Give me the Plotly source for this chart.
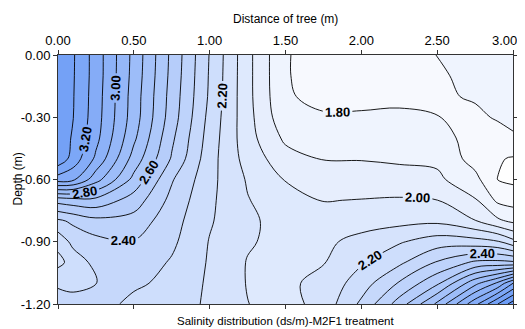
import plotly.graph_objects as go

# Distance from tree (m) – grid columns
distance = [0.0, 0.1, 0.25, 0.5, 0.75, 1.0, 1.25, 1.5, 1.75, 2.0, 2.25, 2.5, 2.75, 2.9, 3.0]
# Depth (m) – grid rows
depth = [0.0, -0.1, -0.2, -0.3, -0.4, -0.5, -0.6, -0.7, -0.8, -0.9, -1.0, -1.1, -1.2]

# Salinity (ds/m), one row per depth
sal_d000 = [3.37, 3.31, 3.155, 2.87, 2.576, 2.295, 2.03, 1.805, 1.77, 1.76, 1.77, 1.801, 1.83, 1.85, 1.86]
sal_d010 = [3.38, 3.308, 3.155, 2.865, 2.57, 2.29, 2.03, 1.805, 1.77, 1.76, 1.77, 1.79, 1.82, 1.84, 1.85]
sal_d020 = [3.385, 3.305, 3.15, 2.855, 2.56, 2.285, 2.03, 1.81, 1.775, 1.768, 1.775, 1.785, 1.81, 1.825, 1.835]
sal_d030 = [3.385, 3.302, 3.145, 2.85, 2.55, 2.27, 2.035, 1.83, 1.81, 1.815, 1.82, 1.802, 1.78, 1.81, 1.81]
sal_d040 = [3.38, 3.285, 3.13, 2.82, 2.52, 2.256, 2.04, 1.88, 1.86, 1.86, 1.86, 1.84, 1.76, 1.76, 1.795]
sal_d050 = [3.375, 3.26, 3.08, 2.76, 2.49, 2.24, 2.06, 1.94, 1.895, 1.895, 1.885, 1.88, 1.76, 1.71, 1.69]
sal_d060 = [3.15, 3.12, 2.94, 2.67, 2.41, 2.23, 2.09, 1.995, 1.96, 1.95, 1.94, 1.92, 1.83, 1.698, 1.68]
sal_d070 = [2.64, 2.66, 2.67, 2.555, 2.37, 2.22, 2.105, 2.04, 1.997, 2.003, 2.01, 2.001, 1.91, 1.78, 1.76]
sal_d080 = [2.38, 2.42, 2.47, 2.46, 2.34, 2.21, 2.12, 2.06, 2.03, 2.06, 2.07, 2.08, 2.005, 1.92, 1.88]
sal_d090 = [2.23, 2.33, 2.37, 2.395, 2.32, 2.195, 2.11, 2.07, 2.08, 2.13, 2.19, 2.25, 2.24, 2.21, 2.13]
sal_d100 = [2.17, 2.24, 2.33, 2.36, 2.29, 2.19, 2.095, 2.08, 2.095, 2.19, 2.28, 2.41, 2.52, 2.53, 2.52]
sal_d110 = [2.29, 2.27, 2.298, 2.32, 2.27, 2.185, 2.095, 2.08, 2.13, 2.25, 2.41, 2.58, 2.87, 3.02, 3.2]
sal_d120 = [2.33, 2.34, 2.35, 2.27, 2.26, 2.18, 2.102, 2.06, 2.14, 2.32, 2.545, 2.82, 3.17, 3.4, 3.55]

salinity = [sal_d000, sal_d010, sal_d020, sal_d030, sal_d040, sal_d050, sal_d060,
            sal_d070, sal_d080, sal_d090, sal_d100, sal_d110, sal_d120]

x_tick_vals = [0.0, 0.5, 1.0, 1.5, 2.0, 2.5, 3.0]
x_tick_text = ["0.00", "0.50", "1.00", "1.50", "2.00", "2.50", "3.00"]
y_tick_vals = [0.0, -0.3, -0.6, -0.9, -1.2]
y_tick_text = ["0.00", "-0.30", "-0.60", "-0.90", "-1.20"]

FONT = "Liberation Sans, Arial, sans-serif"
scale = [[0.0, "rgb(255,255,255)"], [1.0, "rgb(100,150,245)"]]

fig = go.Figure()
# filled bands every 0.1
fig.add_trace(go.Contour(
    x=distance, y=depth, z=salinity,
    colorscale=scale, zmin=1.65, zmax=3.6, showscale=False,
    contours=dict(start=1.7, end=3.5, size=0.1, coloring="fill", showlines=False),
    line=dict(smoothing=1.0, width=0), hoverinfo="skip", showlegend=False))
# unlabeled odd lines
fig.add_trace(go.Contour(
    x=distance, y=depth, z=salinity, showscale=False,
    contours=dict(start=1.7, end=3.5, size=0.2, coloring="none"),
    line=dict(color="black", width=0.9, smoothing=1.0), hoverinfo="skip",
    showlegend=False))
# labeled even lines
fig.add_trace(go.Contour(
    x=distance, y=depth, z=salinity, showscale=False,
    contours=dict(start=1.8, end=3.4, size=0.2, coloring="none", showlabels=True,
                  labelformat=".2f",
                  labelfont=dict(family=FONT, size=13, color="black", weight="bold")),
    line=dict(color="black", width=0.9, smoothing=1.0), hoverinfo="skip",
    showlegend=False))

axis_common = dict(showgrid=False, zeroline=False, showline=True, linecolor="#333333",
                   linewidth=1, mirror="ticks", ticks="outside", ticklen=4,
                   tickcolor="#333333", automargin=False,
                   tickfont=dict(family=FONT, size=13, color="black"))

# the last top tick label would run past the page edge; draw it as a right-anchored text
last_x_label = x_tick_text[-1]
shown_x_text = x_tick_text[:-1] + [""]

# page body keeps an 8px margin, so the figure is 8px smaller on each axis
fig.update_layout(
    width=517, height=321,
    margin=dict(l=50, r=12, t=47, b=25),
    paper_bgcolor="white", plot_bgcolor="white",
    showlegend=False,
    xaxis=dict(side="top", range=[0, 3], tickvals=x_tick_vals, ticktext=shown_x_text,
               **axis_common),
    yaxis=dict(range=[-1.2, 0], tickvals=y_tick_vals, ticktext=y_tick_text, **axis_common),
    annotations=[
        dict(text=last_x_label, xref="x", yref="paper", x=x_tick_vals[-1], y=1,
             xanchor="right", xshift=6, yanchor="middle", yshift=15, showarrow=False,
             font=dict(family=FONT, size=13, color="black")),
        dict(text="Distance of tree (m)", xref="paper", yref="paper", x=0.5, y=1,
             yshift=36, yanchor="middle", showarrow=False,
             font=dict(family=FONT, size=12, color="black")),
        dict(text="Depth (m)", xref="paper", yref="paper", x=0, y=0.5, xshift=-41,
             textangle=-90, showarrow=False, xanchor="center",
             font=dict(family=FONT, size=12, color="black")),
        dict(text="Salinity distribution (ds/m)-M2F1 treatment", xref="paper", yref="paper",
             x=0.5, y=0, yshift=-17, yanchor="middle", showarrow=False,
             font=dict(family=FONT, size=11.5, color="black")),
    ],
)

fig.write_html("out.html")
